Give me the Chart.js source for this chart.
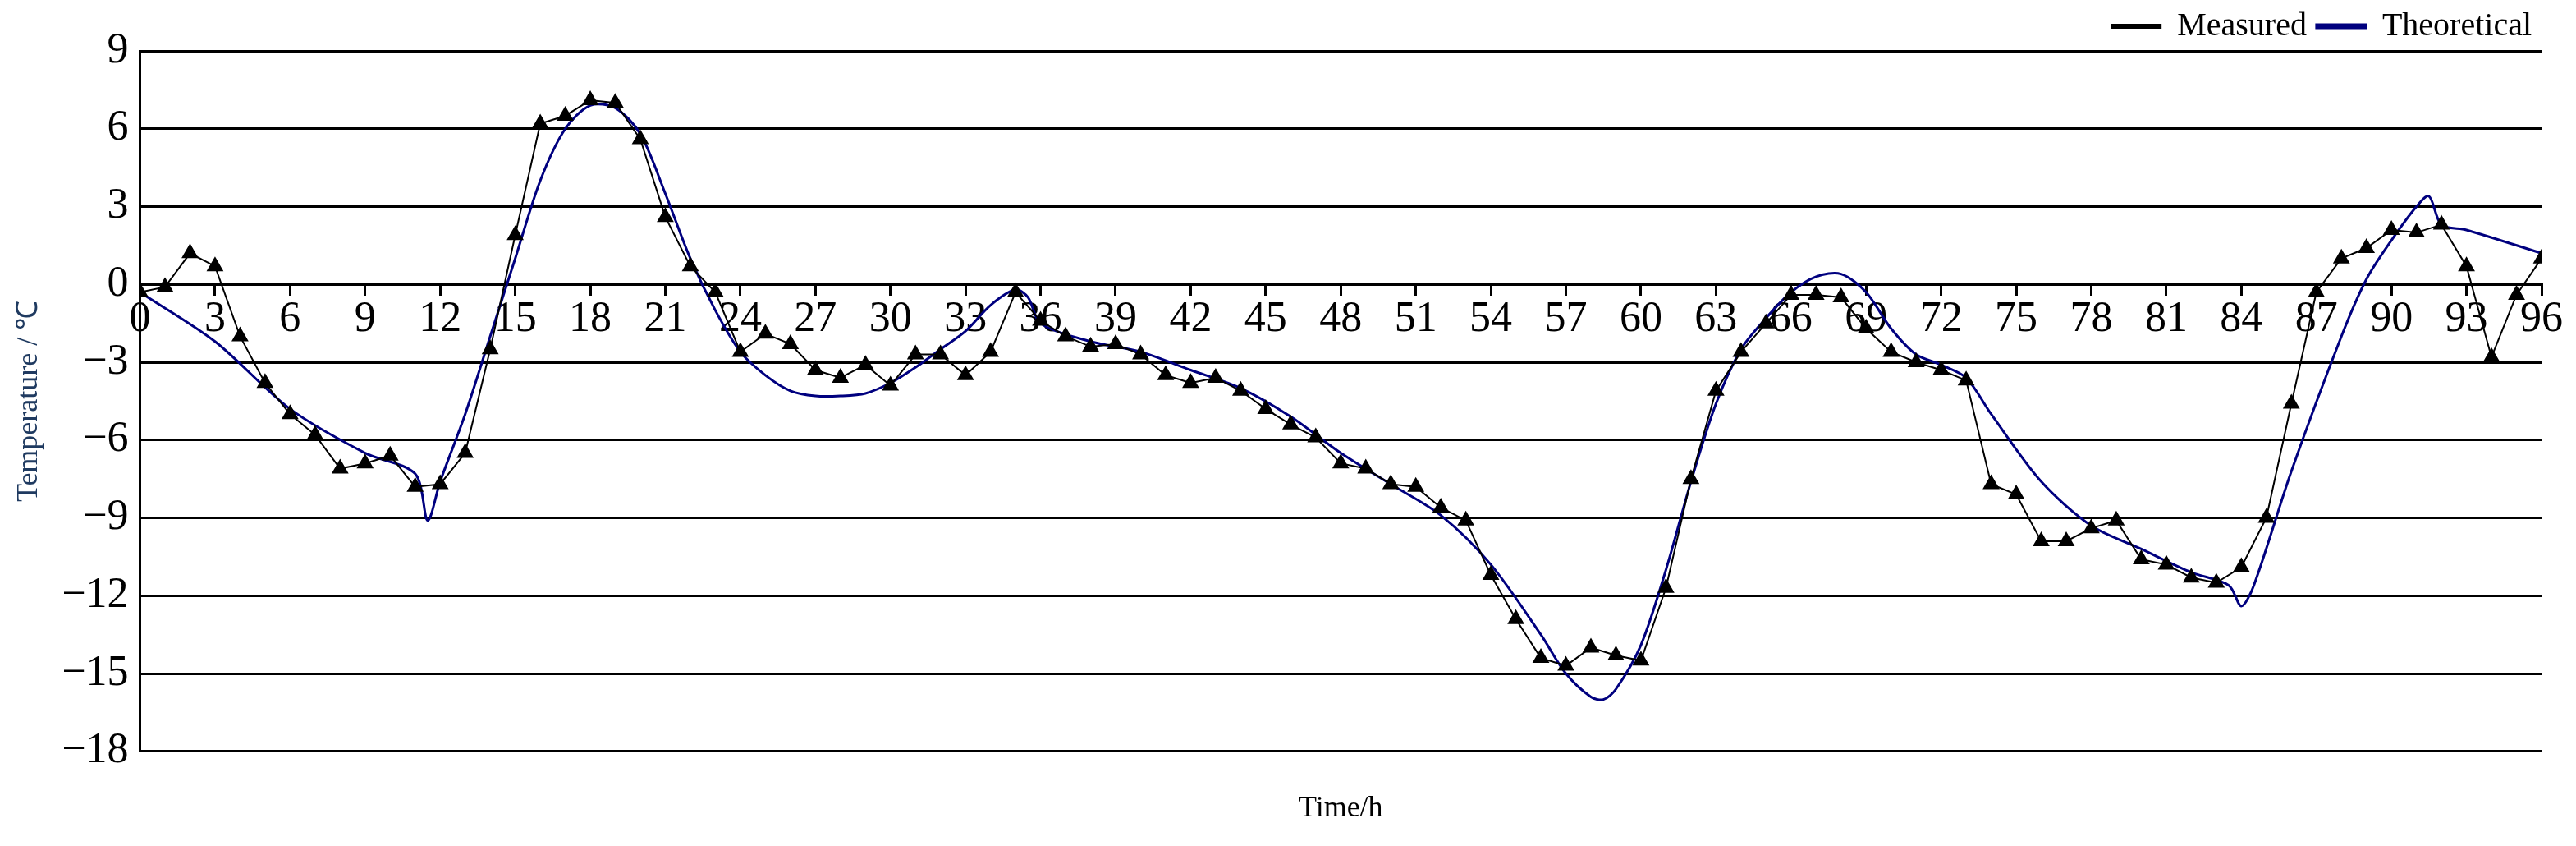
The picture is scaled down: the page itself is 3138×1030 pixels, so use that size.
<!DOCTYPE html>
<html>
<head>
<meta charset="utf-8">
<script src="https://cdn.jsdelivr.net/npm/chart.js@4.4.0/dist/chart.umd.min.js"></script>
<style>
  html, body { margin: 0; padding: 0; background: #fff; }
  #wrap { width: 3138px; height: 1030px; }
</style>
</head>
<body>
<div id="wrap"><canvas id="myChart" width="3138" height="1030"></canvas></div>
<script>
// hourly measured temperature, 0..96 h
const hours = Array.from({ length: 97 }, (_, i) => i);
const measured = [
  -0.3, -0.1, 1.2, 0.7, -2.0, -3.8, -5.0, -5.8, -7.1, -6.9,
  -6.6, -7.8, -7.7, -6.5, -2.5, 1.9, 6.2, 6.5, 7.1, 7.0,
  5.6, 2.6, 0.7, -0.3, -2.6, -1.9, -2.3, -3.3, -3.6, -3.1,
  -3.9, -2.7, -2.7, -3.5, -2.6, -0.3, -1.4, -2.0, -2.4, -2.3,
  -2.7, -3.5, -3.8, -3.6, -4.1, -4.8, -5.4, -5.9, -6.9, -7.1,
  -7.7, -7.8, -8.6, -9.1, -11.2, -12.9, -14.4, -14.7, -14.0, -14.3,
  -14.5, -11.7, -7.5, -4.1, -2.6, -1.5, -0.4, -0.4, -0.5, -1.7,
  -2.6, -3.0, -3.3, -3.7, -7.7, -8.1, -9.9, -9.9, -9.4, -9.1,
  -10.6, -10.8, -11.3, -11.5, -10.9, -9.0, -4.6, -0.3, 1.0, 1.4,
  2.1, 2.0, 2.3, 0.7, -2.8, -0.4, 1.0
];

const theoX = [0, 3, 6, 9, 11, 11.5, 12, 13, 14, 15, 16, 17, 18, 19, 20, 21, 22, 23, 24, 25,
  26, 27, 28, 29, 30, 31, 32, 33, 34, 35, 35.5, 36, 38, 40, 42, 44, 46, 48, 50, 52,
  54, 56, 57, 58, 58.5, 59, 60, 61, 62, 63, 64, 65, 66, 67, 68, 69, 70, 71, 72, 73,
  74, 76, 78, 80, 82, 83.5, 84, 84.5, 86, 88, 89, 90, 91, 91.5, 92, 93, 96];
const theoY = [-0.3, -2.2, -4.8, -6.5, -7.3, -9.1, -7.6, -5.0, -2.0, 1.0, 4.0, 6.0, 6.9, 6.8, 5.8, 3.5, 1.0, -1.0, -2.6, -3.5,
  -4.1, -4.3, -4.3, -4.2, -3.8, -3.2, -2.5, -1.8, -0.8, -0.2, -0.5, -1.5, -2.2, -2.6, -3.3, -4.0, -5.1, -6.5, -7.7, -8.9,
  -10.8, -13.5, -15.0, -15.9, -16.0, -15.6, -13.9, -11.0, -7.6, -4.6, -2.5, -1.3, -0.3, 0.3, 0.4, -0.3, -1.7, -2.7, -3.1, -3.6,
  -5.0, -7.6, -9.3, -10.2, -11.1, -11.6, -12.4, -11.6, -7.2, -2.0, 0.2, 1.7, 3.0, 3.4, 2.3, 2.1, 1.2];

const yTicks = [9, 6, 3, 0, -3, -6, -9, -12, -15, -18];

const serif = 'Liberation Serif';
Chart.defaults.font.family = serif;
Chart.defaults.color = '#000';

new Chart(document.getElementById('myChart'), {
  type: 'line',
  data: {
    datasets: [{
      label: 'Measured',
      data: hours.map((h, i) => ({ x: h, y: measured[i] })),
      borderColor: '#000',
      backgroundColor: '#000',
      borderWidth: 2,
      pointStyle: 'triangle',
      pointRadius: 10,
      tension: 0
    }, {
      label: 'Theoretical',
      data: theoX.map((h, i) => ({ x: h, y: theoY[i] })),
      borderColor: '#00007f',
      backgroundColor: '#00007f',
      borderWidth: 3,
      pointRadius: 0,
      tension: 0.3
    }]
  },
  options: {
    responsive: false,
    animation: false,
    devicePixelRatio: 1,
    layout: { padding: { left: 10, right: 42, top: 0, bottom: 20 } },
    plugins: {
      legend: {
        position: 'top',
        align: 'end',
        labels: {
          font: { size: 40 },
          boxWidth: 60,
          boxHeight: 4,
          padding: 12
        }
      },
      tooltip: { enabled: false }
    },
    scales: {
      x: {
        type: 'linear',
        min: 0,
        max: 96,
        position: { y: 0 },
        ticks: { stepSize: 3, font: { size: 52 }, autoSkip: false, maxRotation: 0, padding: 0 },
        grid: { drawOnChartArea: false, color: '#000', tickLength: 12, lineWidth: 3 },
        border: { color: '#000', width: 3 }
      },
      x2: {
        type: 'linear',
        position: 'bottom',
        min: 0,
        max: 96,
        ticks: { display: false },
        grid: { display: false },
        border: { display: false },
        title: { display: true, text: 'Time/h', font: { size: 36 }, padding: { top: 40 } }
      },
      y: {
        min: -18,
        max: 9,
        afterBuildTicks: s => { s.ticks = yTicks.map(v => ({ value: v })); },
        ticks: { font: { size: 52 }, padding: 14, callback: v => (v < 0 ? '\u2212' + (-v) : v) },
        grid: { color: '#000', lineWidth: 3, drawTicks: false },
        border: { color: '#000', width: 3 },
        title: { display: true, text: 'Temperature / \u2103', font: { size: 36 }, color: '#1f3a60' }
      }
    }
  }
});
</script>
</body>
</html>
